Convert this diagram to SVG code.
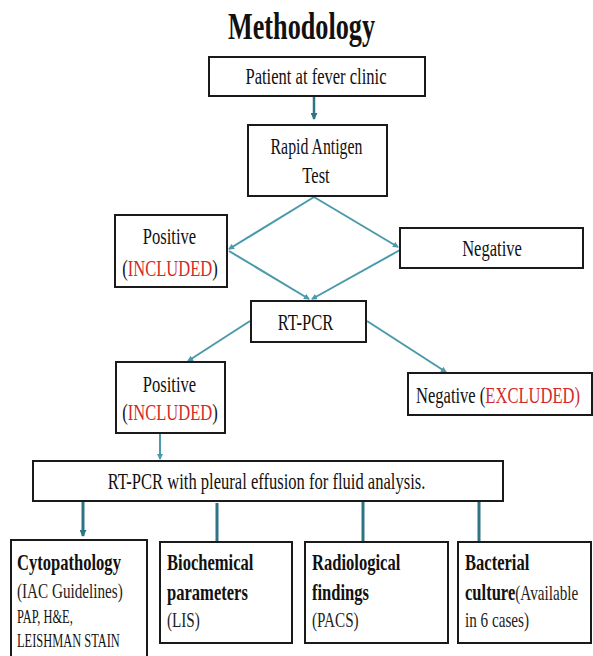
<svg xmlns="http://www.w3.org/2000/svg" width="593" height="656" viewBox="0 0 593 656">
<style>
  .box { fill: #ffffff; stroke: #1a1a1a; stroke-width: 2; }
  .t { font-family: "Liberation Serif", "Times New Roman", serif; fill: #111; }
  .m { font-size: 24px; text-anchor: middle; }
  .b { font-weight: bold; font-size: 24px; }
  .r { font-size: 22px; fill: #222; }
  .s { font-size: 18px; }
  .red { fill: #d42a2a; }
  .c1 { stroke: #4a9aab; stroke-width: 2; fill: none; }
  .c2 { stroke: #2f7484; stroke-width: 3; fill: none; }
</style>
<defs>
  <marker id="ah" markerWidth="6" markerHeight="6" refX="5" refY="3" orient="auto" markerUnits="userSpaceOnUse">
    <path d="M0,0 L6,3 L0,6 Z" fill="#4a9aab"/>
  </marker>
  <marker id="ah2" markerWidth="7" markerHeight="7" refX="6" refY="3.5" orient="auto" markerUnits="userSpaceOnUse">
    <path d="M0,0 L7,3.5 L0,7 Z" fill="#2f7484"/>
  </marker>
</defs>
<rect width="593" height="656" fill="#ffffff"/>

<text class="t" transform="translate(228,39) scale(0.69,1)" font-size="38" font-weight="bold">Methodology</text>

<g id="connectors">
  <line class="c2" x1="314" y1="96" x2="314" y2="119" marker-end="url(#ah2)" style="stroke-width:2.5"/>
  <line class="c1" x1="314" y1="197" x2="229" y2="249" marker-end="url(#ah)"/>
  <line class="c1" x1="314" y1="197" x2="398" y2="247" marker-end="url(#ah)"/>
  <line class="c1" x1="229" y1="251" x2="309" y2="299" marker-end="url(#ah)"/>
  <line class="c1" x1="400" y1="250" x2="312" y2="299" marker-end="url(#ah)"/>
  <line class="c1" x1="250" y1="321" x2="188" y2="361" marker-end="url(#ah)"/>
  <line class="c1" x1="367" y1="321" x2="446" y2="372" marker-end="url(#ah)"/>
  <line class="c1" x1="160" y1="433" x2="160" y2="459" marker-end="url(#ah)"/>
  <line class="c2" x1="83" y1="501" x2="83" y2="536" marker-end="url(#ah2)"/>
  <line class="c2" x1="217" y1="503" x2="217" y2="542"/>
  <line class="c2" x1="363" y1="501" x2="363" y2="542"/>
  <line class="c2" x1="479" y1="501" x2="479" y2="541"/>
</g>

<g id="patient">
  <rect class="box" x="209" y="57" width="216" height="39"/>
  <text class="t m" transform="translate(316,84) scale(0.69,1)">Patient at fever clinic</text>
</g>

<g id="rapid">
  <rect class="box" x="248" y="125" width="139" height="71"/>
  <text class="t m" transform="translate(316.5,154) scale(0.66,1)">Rapid Antigen</text>
  <text class="t m" transform="translate(316,183) scale(0.69,1)">Test</text>
</g>

<g id="positive1">
  <rect class="box" x="115" y="215" width="112" height="72"/>
  <text class="t m" transform="translate(169.5,244) scale(0.69,1)">Positive</text>
  <text class="t m" transform="translate(170,276) scale(0.69,1)">(<tspan class="red">INCLUDED</tspan>)</text>
</g>

<g id="negative1">
  <rect class="box" x="400" y="228" width="183" height="40"/>
  <text class="t m" transform="translate(492,256) scale(0.69,1)">Negative</text>
</g>

<g id="rtpcr">
  <rect class="box" x="251" y="301" width="115" height="41"/>
  <text class="t m" transform="translate(305.5,330) scale(0.69,1)">RT-PCR</text>
</g>

<g id="positive2">
  <rect class="box" x="116" y="362" width="109" height="71"/>
  <text class="t m" transform="translate(169.5,392) scale(0.69,1)">Positive</text>
  <text class="t m" transform="translate(170,420) scale(0.69,1)">(<tspan class="red">INCLUDED</tspan>)</text>
</g>

<g id="negative2">
  <rect class="box" x="408" y="373" width="184" height="42"/>
  <text class="t m" transform="translate(498,403) scale(0.69,1)">Negative (<tspan class="red">EXCLUDED)</tspan></text>
</g>

<g id="fluid">
  <rect class="box" x="33" y="461" width="470" height="40"/>
  <text class="t m" transform="translate(266.5,489) scale(0.69,1)">RT-PCR with pleural effusion for fluid analysis.</text>
</g>

<g id="cyto">
  <rect class="box" x="11" y="540" width="136" height="120"/>
  <text class="t b" transform="translate(17,570) scale(0.69,1)">Cytopathology</text>
  <text class="t r" transform="translate(17,598) scale(0.69,1)" font-size="23">(IAC Guidelines)</text>
  <text class="t s" transform="translate(17,623) scale(0.69,1)">PAP, H&amp;E,</text>
  <text class="t s" transform="translate(17,647) scale(0.69,1)">LEISHMAN STAIN</text>
</g>

<g id="biochem">
  <rect class="box" x="160" y="542" width="132" height="101"/>
  <text class="t b" transform="translate(167,570) scale(0.69,1)">Biochemical</text>
  <text class="t b" transform="translate(167,600) scale(0.69,1)">parameters</text>
  <text class="t r" transform="translate(167,627) scale(0.69,1)">(LIS)</text>
</g>

<g id="radio">
  <rect class="box" x="305" y="542" width="143" height="101"/>
  <text class="t b" transform="translate(312,570) scale(0.69,1)">Radiological</text>
  <text class="t b" transform="translate(312,600) scale(0.69,1)">findings</text>
  <text class="t r" transform="translate(312,627) scale(0.69,1)" font-size="21">(PACS)</text>
</g>

<g id="bacterial">
  <rect class="box" x="458" y="542" width="133" height="101"/>
  <text class="t b" transform="translate(465,570) scale(0.69,1)">Bacterial</text>
  <text class="t b" transform="translate(465,600) scale(0.69,1)">culture<tspan font-weight="normal" font-size="22" fill="#222">(Available</tspan></text>
  <text class="t r" transform="translate(465,627) scale(0.69,1)" font-size="21">in 6 cases)</text>
</g>
</svg>
